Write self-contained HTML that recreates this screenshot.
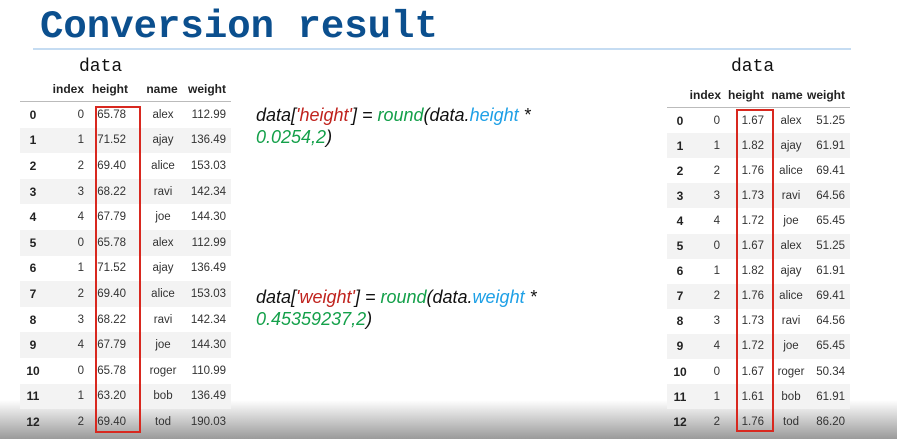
<!DOCTYPE html>
<html><head><meta charset="utf-8">
<style>
body{margin:0;width:897px;height:439px;overflow:hidden;position:relative;background:#fff;font-family:"Liberation Sans",sans-serif;}
.abs{position:absolute;white-space:nowrap;}
.cell{position:absolute;font-size:11.5px;color:#333;line-height:16px;height:16px;}
.hd{font-weight:bold;font-size:12px;color:#222;}
.code{font-family:"Liberation Sans",sans-serif;font-style:italic;font-size:18px;color:#111;}
</style></head>
<body>
<div class="abs" style="left:0;top:400px;width:897px;height:39px;background:linear-gradient(#fff0,#9a9a9a);z-index:0"></div>
<div class="abs" style="left:40px;top:5px;font-family:'Liberation Mono',monospace;font-weight:bold;font-size:39px;color:#0b4f8e;">Conversion result</div>
<div class="abs" style="left:33px;top:48px;width:818px;height:2px;background:#c5dcf2"></div>

<div class="abs code" style="left:256px;top:104px;line-height:22px">data[<span style="color:#c0231e">'height'</span>] = <span style="color:#14a04a">round</span>(data.<span style="color:#1ea0e6">height</span> *<br><span style="color:#14a04a">0.0254,2</span>)</div>
<div class="abs code" style="left:256px;top:286px;line-height:22px">data[<span style="color:#c0231e">'weight'</span>] = <span style="color:#14a04a">round</span>(data.<span style="color:#1ea0e6">weight</span> *<br><span style="color:#14a04a">0.45359237,2</span>)</div>

<script>
const idx=[0,1,2,3,4,0,1,2,3,4,0,1,2];
const names=["alex","ajay","alice","ravi","joe","alex","ajay","alice","ravi","joe","roger","bob","tod"];
const hIn=["65.78","71.52","69.40","68.22","67.79","65.78","71.52","69.40","68.22","67.79","65.78","63.20","69.40"];
const wLb=["112.99","136.49","153.03","142.34","144.30","112.99","136.49","153.03","142.34","144.30","110.99","136.49","190.03"];
const hM=["1.67","1.82","1.76","1.73","1.72","1.67","1.82","1.76","1.73","1.72","1.67","1.61","1.76"];
const wKg=["51.25","61.91","69.41","64.56","65.45","51.25","61.91","69.41","64.56","65.45","50.34","61.91","86.20"];

function mk(cls,txt,css){const d=document.createElement('div');d.className=cls;d.textContent=txt;d.style.cssText=css;document.body.appendChild(d);return d;}
function table(cfg){
  const {x0,x1,title,titleX,titleY,hdrY,lineY,row0,rh,cols,hcols,hvals,wvals,box}=cfg;
  const t=mk('abs',title,`left:${titleX}px;top:${titleY}px;font-family:'Liberation Mono',monospace;font-size:18px;color:#111;`);
  
  
  const heads=["index","height","name","weight"];
  heads.forEach((h,i)=>{const c=hcols[i];
    const e=mk('cell hd',h,`top:${hdrY}px;${c.a==='r'?'right:'+(897-c.x)+'px':'left:'+(c.x-25)+'px;width:50px;text-align:center'}`);
    
    });
  const l=mk('abs','',`left:${x0}px;top:${lineY}px;width:${x1-x0}px;height:1px;background:#bbb`);
  
  
  for(let r=0;r<names.length;r++){
    const y=row0+r*rh;
    if(r%2==1){const s=mk('abs','',`left:${x0}px;top:${y}px;width:${x1-x0}px;height:${rh}px;background:#f3f3f3`);
      
      }
    const vals=[String(r),String(idx[r]),hvals[r],names[r],wvals[r]];
    vals.forEach((v,i)=>{const c=cols[i];
      const css=`top:${y+rh/2-8}px;`+(c.a==='r'?'right:'+(897-c.x)+'px':'left:'+(c.x-25)+'px;width:50px;text-align:center');
      const e=mk('cell'+(i==0?' hd':''),v,css);
      
      });
  }
  const b=mk('abs','',`left:${box[0]}px;top:${box[1]}px;width:${box[2]-box[0]}px;height:${box[3]-box[1]}px;border:2px solid #d8281f;box-sizing:border-box`);
  
  
}
table({name:'original-table',x0:20,x1:231,title:'data',titleX:79,titleY:57,hdrY:81,lineY:101,row0:102,rh:25.6,
  cols:[{x:33,a:'c'},{x:84,a:'r'},{x:126,a:'r'},{x:163,a:'c'},{x:226,a:'r'}],
  hcols:[{x:84,a:'r'},{x:128,a:'r'},{x:162,a:'c'},{x:226,a:'r'}],hvals:hIn,wvals:wLb,box:[95,106,141,433]});
table({name:'converted-table',x0:667,x1:850,title:'data',titleX:731,titleY:57,hdrY:87,lineY:107,row0:108,rh:25.1,
  cols:[{x:680,a:'c'},{x:720,a:'r'},{x:764,a:'r'},{x:791,a:'c'},{x:845,a:'r'}],
  hcols:[{x:721,a:'r'},{x:764,a:'r'},{x:787,a:'c'},{x:845,a:'r'}],hvals:hM,wvals:wKg,box:[736,109,774,432]});
</script>
</body></html>
